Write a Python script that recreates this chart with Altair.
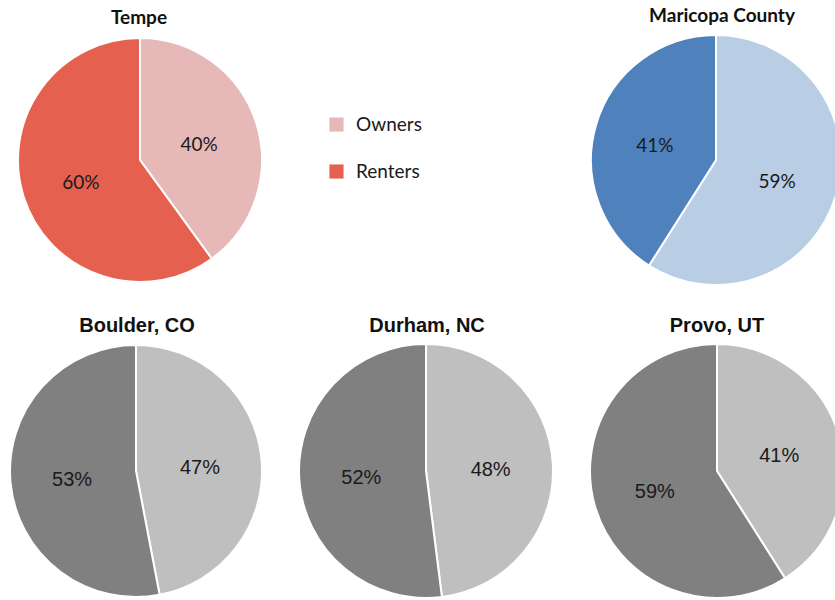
import altair as alt
import pandas as pd

places = ["Tempe", "Maricopa County", "Boulder, CO", "Durham, NC", "Provo, UT"]
tenure = ["Owners", "Renters"]
owners = [40, 59, 47, 48, 41]
renters = [60, 41, 53, 52, 59]

palettes = [
    ["#E6B9B8", "#E5604F"],
    ["#B9CDE5", "#4F81BD"],
    ["#BFBFBF", "#808080"],
    ["#BFBFBF", "#808080"],
    ["#BFBFBF", "#808080"],
]

# layout (cx, cy, r, title_y, top_row)
layout = [
    (140, 160, 122, 24, True),
    (716, 160, 125, 22, True),
    (136, 471, 126, 332, False),
    (426, 471, 127, 332, False),
    (717, 471, 127, 332, False),
]
title_x = [139, 722, 137, 427, 717]

layers = []
for i, place in enumerate(places):
    cx, cy, r, ty, top = layout[i]
    df = pd.DataFrame({
        "tenure": tenure,
        "share": [owners[i], renters[i]],
        "ord": [0, 1],
    })
    df["label"] = df["share"].astype(str) + "%"
    if i == 0:
        legend = alt.Legend(
            orient="none", legendX=327, legendY=115, title=None,
            symbolType="square", symbolSize=200, symbolStrokeWidth=0,
            labelFont="Lato", labelFontSize=19, labelColor="#1a1a1a",
            rowPadding=27, labelOffset=10,
        )
    else:
        legend = None
    color = alt.Color(
        "tenure:N",
        scale=alt.Scale(domain=tenure, range=palettes[i]),
        legend=legend,
    )
    base = alt.Chart(df)
    arc = base.mark_arc(outerRadius=r, stroke="white", strokeWidth=2).encode(
        theta=alt.Theta("share:Q", stack=True),
        color=color,
        order=alt.Order("ord:Q"),
        x=alt.value(cx),
        y=alt.value(cy),
    )
    font = "Lato" if top else "Liberation Sans"
    fsize = 19 if top else 20
    txt = base.mark_text(font=font, fontSize=fsize, color="#1a1a1a",
                         dy=4 if top else 3).encode(
        theta=alt.Theta("share:Q", stack=True),
        radius=alt.value(r * 0.51),
        text=alt.Text("label:N"),
        order=alt.Order("ord:Q"),
        x=alt.value(cx),
        y=alt.value(cy),
    )
    title = alt.Chart(pd.DataFrame({"t": [place]})).mark_text(
        font=font, fontSize=19 if top else 20, fontWeight="bold",
        color="#111111", baseline="alphabetic",
    ).encode(text="t:N", x=alt.value(title_x[i]), y=alt.value(ty))
    layers += [arc, txt, title]

chart = alt.layer(*layers).resolve_scale(color="independent").properties(
    width=835, height=600, autosize=alt.AutoSizeParams(type="none"), padding=0,
    background="white",
).configure_view(stroke=None)

chart.save("out.html", embed_options={"renderer": "svg", "actions": False})
